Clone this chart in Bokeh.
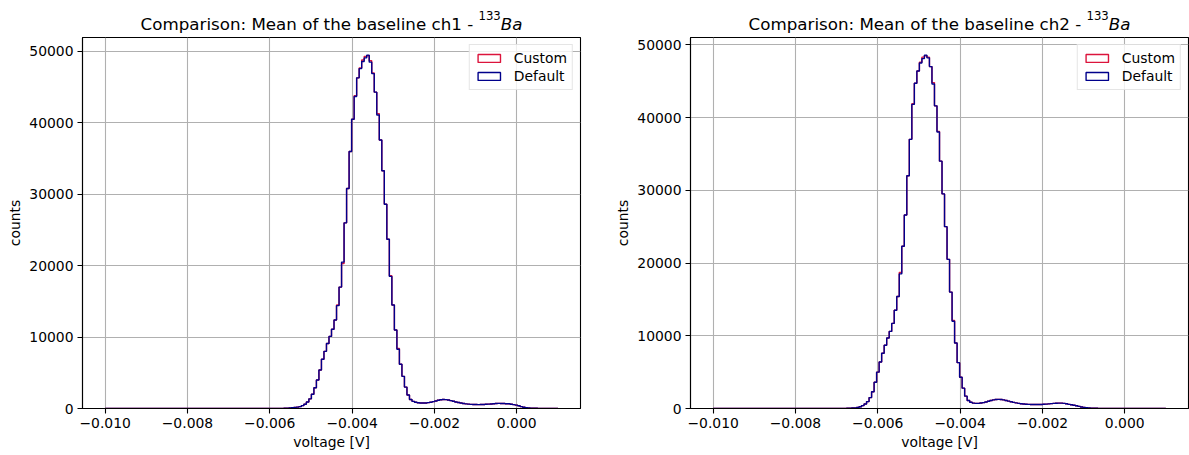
import numpy as np
from bokeh.plotting import figure
from bokeh.layouts import row, column
from bokeh.models import Label, Legend, LegendItem, FixedTicker, Range1d
from bokeh.embed import file_html
from bokeh.resources import INLINE

# ---------------- data ----------------
BIN_RANGE = (-0.010, 0.001)
N_BINS = 180

X_TICKS = [-0.010, -0.008, -0.006, -0.004, -0.002, 0.000]
X_TICK_LABELS = ["\u22120.010", "\u22120.008", "\u22120.006", "\u22120.004", "\u22120.002", "0.000"]
Y_TICKS = [0, 10000, 20000, 30000, 40000, 50000]
Y_TICK_LABELS = ["0", "10000", "20000", "30000", "40000", "50000"]

SERIES_NAMES = ["Custom", "Default"]
SERIES_COLORS = ["crimson", "darkblue"]
CHANNELS = ["ch1", "ch2"]

ch1_default = [
    0, 0, 0, 0, 0, 0, 0, 0, 0, 0,
    0, 0, 0, 0, 0, 0, 0, 0, 0, 0,
    0, 0, 0, 0, 0, 0, 0, 0, 0, 0,
    0, 0, 0, 0, 0, 0, 0, 0, 0, 0,
    0, 0, 0, 0, 0, 1, 0, 0, 1, 0,
    1, 0, 1, 1, 0, 1, 1, 2, 2, 3,
    4, 5, 6, 7, 8, 9, 10, 12, 14, 17,
    20, 30, 45, 70, 100, 140, 190, 260, 400, 600,
    900, 1350, 2000, 2900, 4000, 5400, 6900, 8000, 9100, 10100,
    11100, 12400, 14400, 17000, 20500, 26000, 30800, 36000, 40500, 43700,
    46300, 47600, 48600, 49100, 49480, 48500, 46900, 44300, 41100, 37600,
    33300, 28600, 23700, 18500, 14500, 11000, 8300, 6200, 4500, 3000,
    1900, 1250, 1000, 880, 800, 760, 760, 780, 820, 880,
    960, 1050, 1150, 1230, 1260, 1240, 1180, 1100, 1010, 920,
    830, 760, 700, 650, 610, 580, 560, 550, 545, 550,
    565, 585, 610, 640, 670, 700, 715, 710, 690, 660,
    660, 600, 540, 470, 380, 260, 170, 110, 75, 52,
    38, 28, 21, 17, 13, 10, 8, 6, 5, 4,
]
ch1_custom = [
    0, 0, 0, 0, 0, 0, 0, 0, 0, 0,
    0, 0, 0, 0, 0, 0, 0, 0, 0, 0,
    0, 0, 0, 0, 0, 0, 0, 0, 0, 0,
    0, 0, 0, 0, 0, 0, 0, 0, 0, 0,
    0, 0, 0, 0, 0, 1, 0, 0, 1, 0,
    1, 0, 1, 1, 0, 1, 1, 2, 2, 3,
    4, 5, 6, 7, 8, 9, 10, 12, 14, 17,
    20, 30, 45, 70, 100, 140, 190, 260, 400, 600,
    900, 1350, 2000, 2900, 4000, 5400, 6900, 8000, 9100, 10100,
    11100, 12400, 14500, 17000, 20300, 26000, 30800, 36000, 40500, 43800,
    46300, 47700, 48800, 49300, 49400, 48700, 47000, 44300, 41300, 37600,
    33300, 28600, 23700, 18600, 14500, 11000, 8400, 6200, 4500, 3000,
    1900, 1250, 1000, 880, 800, 760, 760, 780, 820, 880,
    960, 1050, 1150, 1230, 1260, 1240, 1180, 1100, 1010, 920,
    830, 760, 700, 650, 610, 580, 560, 550, 545, 550,
    565, 585, 610, 640, 670, 700, 715, 710, 690, 660,
    660, 600, 540, 470, 380, 260, 170, 110, 75, 52,
    38, 28, 21, 17, 13, 10, 8, 6, 5, 4,
]
ch2_default = [
    0, 0, 0, 0, 0, 0, 0, 0, 0, 0,
    0, 0, 0, 0, 0, 0, 0, 0, 0, 0,
    0, 0, 0, 0, 0, 0, 0, 0, 0, 0,
    0, 0, 0, 0, 0, 0, 0, 1, 0, 0,
    1, 0, 1, 1, 1, 2, 3, 4, 6, 8,
    11, 15, 20, 28, 40, 60, 90, 140, 250, 400,
    620, 950, 1500, 2300, 3600, 5000, 6400, 7600, 8700, 9700,
    10600, 11700, 13500, 15400, 18500, 22300, 26600, 32000, 37000, 41800,
    44700, 46400, 47500, 48100, 48570, 48200, 47000, 44600, 41600, 38000,
    34000, 29500, 25000, 20500, 16000, 12000, 9000, 6300, 4300, 2800,
    1700, 1100, 850, 740, 700, 710, 750, 810, 900, 1000,
    1100, 1180, 1230, 1250, 1230, 1180, 1100, 1010, 920, 840,
    770, 710, 660, 620, 590, 570, 555, 545, 540, 545,
    555, 575, 600, 630, 665, 700, 730, 745, 740, 710,
    650, 570, 520, 450, 370, 290, 200, 150, 110, 75,
    52, 38, 28, 21, 17, 13, 10, 8, 6, 5,
    4, 4, 3, 3, 3, 2, 2, 2, 2, 1,
    1, 1, 1, 1, 1, 0, 0, 0, 0, 0,
]
ch2_custom = [
    0, 0, 0, 0, 0, 0, 0, 0, 0, 0,
    0, 0, 0, 0, 0, 0, 0, 0, 0, 0,
    0, 0, 0, 0, 0, 0, 0, 0, 0, 0,
    0, 0, 0, 0, 0, 0, 0, 1, 0, 0,
    1, 0, 1, 1, 1, 2, 3, 4, 6, 8,
    11, 15, 20, 28, 40, 60, 90, 140, 250, 400,
    620, 950, 1500, 2300, 3600, 5000, 6400, 7600, 8700, 9700,
    10600, 11700, 13500, 15400, 18700, 22300, 26600, 32000, 37000, 41900,
    44700, 46400, 47600, 48300, 48500, 48300, 47000, 44800, 41600, 38100,
    34000, 29500, 25000, 20500, 16000, 12100, 9000, 6300, 4300, 2800,
    1700, 1100, 850, 740, 700, 710, 750, 810, 900, 1000,
    1100, 1180, 1230, 1250, 1230, 1180, 1100, 1010, 920, 840,
    770, 710, 660, 620, 590, 570, 555, 545, 540, 545,
    555, 575, 600, 630, 665, 700, 730, 745, 740, 710,
    650, 570, 520, 450, 370, 290, 200, 150, 110, 75,
    52, 38, 28, 21, 17, 13, 10, 8, 6, 5,
    4, 4, 3, 3, 3, 2, 2, 2, 2, 1,
    1, 1, 1, 1, 1, 0, 0, 0, 0, 0,
]

# ---------------- styling ----------------
FONT = "DejaVu Sans"
TICK_FS = "13.9px"
TITLE_FS = "16.7px"
SUP_FS = "11.7px"
TITLE_H = 36
PLOT_H = 419
BOTTOM = 47

edges = np.linspace(BIN_RANGE[0], BIN_RANGE[1], N_BINS + 1)


def title_strip(channel, width, border_left, border_right):
    t = figure(width=width, height=TITLE_H, output_backend="svg", toolbar_location=None,
               x_axis_type=None, y_axis_type=None,
               x_range=Range1d(0, 1), y_range=Range1d(0, 1),
               min_border_left=border_left, min_border_right=border_right,
               min_border_top=0, min_border_bottom=0)
    t.outline_line_color = None
    t.background_fill_color = "white"
    t.border_fill_color = "white"
    t.grid.visible = False
    fw = width - border_left - border_right
    start = fw / 2 - 191          # frame-relative
    main_end = start + 332.7
    sup_x = start + 338
    sym_x = start + 360.3
    base_y = 12.8
    t.add_layout(Label(x=main_end, y=base_y, x_units="screen", y_units="screen",
                       text=f"Comparison: Mean of the baseline {channel} -",
                       text_font=FONT, text_font_size=TITLE_FS, text_color="black",
                       text_align="right", text_baseline="alphabetic"))
    t.add_layout(Label(x=sup_x, y=base_y + 8, x_units="screen", y_units="screen",
                       text="133", text_font=FONT, text_font_size=SUP_FS, text_color="black",
                       text_align="left", text_baseline="alphabetic"))
    t.add_layout(Label(x=sym_x, y=base_y, x_units="screen", y_units="screen",
                       text="Ba", text_font=FONT, text_font_size=TITLE_FS,
                       text_font_style="italic", text_color="black",
                       text_align="left", text_baseline="alphabetic"))
    return t


def hist_panel(custom, default, width, border_left, border_right):
    span = BIN_RANGE[1] - BIN_RANGE[0]
    ymax = max(max(custom), max(default)) * 1.05
    p = figure(width=width, height=PLOT_H, output_backend="svg", toolbar_location=None,
               x_range=Range1d(BIN_RANGE[0] - 0.05 * span, BIN_RANGE[1] + 0.05 * span),
               y_range=Range1d(0, ymax),
               min_border_left=border_left, min_border_right=border_right,
               min_border_top=1, min_border_bottom=BOTTOM)
    p.background_fill_color = "white"
    p.border_fill_color = "white"
    p.outline_line_color = "black"
    p.outline_line_width = 1.1

    items = []
    for name, counts, color in zip(SERIES_NAMES, [custom, default], SERIES_COLORS):
        y = list(counts) + [0]
        p.step(x=edges, y=y, mode="after", line_color=color, line_width=1.4)
        proxy = p.quad(left=[np.nan], right=[np.nan], top=[np.nan], bottom=[np.nan],
                       fill_alpha=0, line_color=color, line_width=1.4)
        items.append(LegendItem(label=name, renderers=[proxy]))

    legend = Legend(items=items, location="top_right")
    legend.label_text_font = FONT
    legend.label_text_font_size = TICK_FS
    legend.label_text_color = "black"
    legend.glyph_width = 28
    legend.glyph_height = 10
    legend.label_standoff = 11
    legend.label_height = 14
    legend.padding = 5
    legend.spacing = 2
    legend.margin = 7
    legend.border_line_color = "#cccccc"
    legend.border_line_width = 1
    legend.background_fill_color = "white"
    legend.background_fill_alpha = 0.8
    p.add_layout(legend)

    p.xaxis.ticker = FixedTicker(ticks=X_TICKS)
    p.xaxis.major_label_overrides = dict(zip(X_TICKS, X_TICK_LABELS))
    p.yaxis.ticker = FixedTicker(ticks=Y_TICKS)
    p.yaxis.major_label_overrides = dict(zip(Y_TICKS, Y_TICK_LABELS))
    p.xaxis.axis_label = "voltage [V]"
    p.yaxis.axis_label = "counts"
    for ax in (p.xaxis[0], p.yaxis[0]):
        ax.axis_line_color = "black"
        ax.axis_line_width = 1.1
        ax.major_tick_line_color = "black"
        ax.major_tick_line_width = 1.1
        ax.major_tick_out = 5
        ax.major_tick_in = 0
        ax.minor_tick_out = 0
        ax.minor_tick_in = 0
        ax.major_label_text_font = FONT
        ax.major_label_text_font_size = TICK_FS
        ax.major_label_text_color = "black"
        ax.major_label_standoff = 4
        ax.axis_label_text_font = FONT
        ax.axis_label_text_font_size = TICK_FS
        ax.axis_label_text_font_style = "normal"
        ax.axis_label_text_color = "black"
        ax.axis_label_standoff = 3
    p.grid.grid_line_color = "#b0b0b0"
    p.grid.grid_line_width = 1.1
    return p


LEFT_W, LEFT_BL, LEFT_BR = 600, 82, 20
RIGHT_W, RIGHT_BL, RIGHT_BR = 589, 90, 1

col1 = column(title_strip(CHANNELS[0], LEFT_W, LEFT_BL, LEFT_BR),
              hist_panel(ch1_custom, ch1_default, LEFT_W, LEFT_BL, LEFT_BR), spacing=0)
col2 = column(title_strip(CHANNELS[1], RIGHT_W, RIGHT_BL, RIGHT_BR),
              hist_panel(ch2_custom, ch2_default, RIGHT_W, RIGHT_BL, RIGHT_BR), spacing=0)
layout = row(col1, col2, spacing=0)

open("out.html", "w").write(file_html(layout, INLINE))
